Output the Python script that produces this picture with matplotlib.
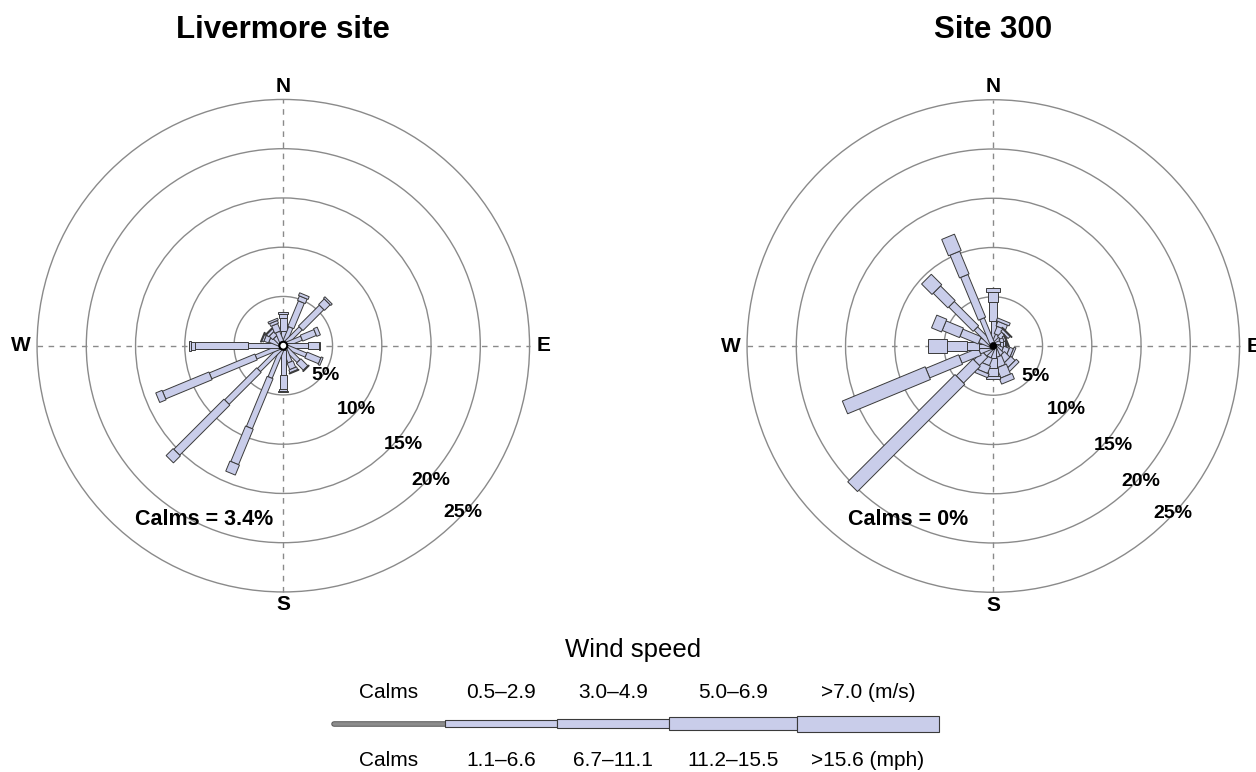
import numpy as np
import matplotlib
matplotlib.use('Agg')
import matplotlib.pyplot as plt
from matplotlib.patches import Polygon, Circle, Rectangle

plt.rcParams['font.family'] = ['Liberation Sans', 'DejaVu Sans']

# 16 compass sectors, bearing clockwise from north
bearings = np.arange(16) * 22.5

sites = ['Livermore site', 'Site 300']
calms = [3.4, 0.0]

# cumulative frequency (%) at the end of each speed class, N, NNE, ... NNW
liv_c1 = [1.5, 2.0, 2.5, 2.0, 2.5, 2.5, 2.2, 1.8, 3.0, 3.5, 3.5, 3.0, 3.6, 1.5, 1.2, 1.5]
liv_c2 = [2.8, 4.8, 5.5, 3.5, 3.6, 4.0, 3.2, 2.5, 4.4, 9.0, 8.1, 8.0, 9.0, 2.0, 1.7, 2.3]
liv_c3 = [3.2, 5.3, 6.3, 3.9, 3.7, 4.2, 3.3, 2.8, 4.6, 12.9, 15.3, 13.1, 9.4, 2.2, 2.0, 2.6]
liv_c4 = [3.4, 5.6, 6.5, 3.9, 3.7, 4.2, 3.3, 2.9, 4.7, 14.0, 16.3, 13.8, 9.6, 2.3, 2.1, 2.8]

s300_c1 = [2.5, 1.2, 1.0, 0.8, 0.7, 1.0, 1.2, 1.2, 1.2, 1.2, 1.2, 1.5, 1.5, 1.5, 2.5, 3.0]
s300_c2 = [4.5, 2.0, 1.6, 1.2, 1.0, 1.6, 2.0, 2.2, 2.2, 2.0, 2.4, 3.6, 2.7, 3.5, 6.0, 7.7]
s300_c3 = [5.5, 2.5, 1.9, 1.4, 1.2, 2.0, 2.6, 3.3, 3.0, 2.8, 4.8, 7.2, 4.7, 5.4, 8.1, 10.2]
s300_c4 = [5.9, 2.8, 2.0, 1.5, 1.3, 2.2, 3.0, 3.9, 3.3, 3.2, 20.2, 16.3, 6.6, 6.5, 9.6, 12.0]

rings = [5, 10, 15, 20, 25]
ring_labels = ['5%', '10%', '15%', '20%', '25%']

speed_ms = ['Calms', '0.5–2.9', '3.0–4.9', '5.0–6.9', '>7.0 (m/s)']
speed_mph = ['Calms', '1.1–6.6', '6.7–11.1', '11.2–15.5', '>15.6 (mph)']

FILL = '#c9cdea'
EDGE = '#3a3a3a'
GRID = '#8a8a8a'
PX = 9.85  # pixels per percent

W, H = 1256, 772
fig = plt.figure(figsize=(W / 100, H / 100), dpi=100)

# pixel overlay for titles and the key
ax_px = fig.add_axes([0, 0, 1, 1])
ax_px.set_xlim(0, W)
ax_px.set_ylim(H, 0)
ax_px.axis('off')


def paddle(ax, bearing, r0, r1, w):
    t = np.radians(bearing)
    u = np.array([np.sin(t), np.cos(t)])
    p = np.array([np.cos(t), -np.sin(t)])
    pts = [r0 * u + w / 2 * p, r1 * u + w / 2 * p,
           r1 * u - w / 2 * p, r0 * u - w / 2 * p]
    ax.add_patch(Polygon(pts, closed=True, fc=FILL, ec=EDGE, lw=0.7, zorder=3))


def draw_rose(cx, cy, classes, widths, hub, calm, calm_xy):
    half = 28.5
    size = 2 * half * PX
    ax = fig.add_axes([(cx - size / 2) / W, (H - cy - size / 2) / H, size / W, size / H])
    ax.set_xlim(-half, half)
    ax.set_ylim(-half, half)
    ax.set_aspect('equal')
    ax.axis('off')

    for r in rings:
        ax.add_patch(Circle((0, 0), r, fill=False, ec=GRID, lw=1.0, zorder=1))
    ax.plot([-25, 25], [0, 0], color=GRID, lw=1.0, ls=(0, (4, 4)), zorder=1)
    ax.plot([0, 0], [-25, 25], color=GRID, lw=1.0, ls=(0, (4, 4)), zorder=1)

    for i, b in enumerate(bearings):
        r0 = hub
        for k in range(4):
            r1 = classes[k][i]
            if r1 > r0:
                paddle(ax, b, r0, r1, widths[k])
                r0 = r1

    if hub > 0:
        ax.add_patch(Circle((0, 0), hub, fc='white', ec='black', lw=1.5, zorder=4))
    else:
        ax.add_patch(Circle((0, 0), 0.35, fc='black', ec='black', lw=0.5, zorder=4))

    # ring labels sit on a line to the south-east
    offs = [(42, 30), (73, 64), (120, 99), (148, 135), (180, 167)]
    for lab, (dx, dy) in zip(ring_labels, offs):
        ax.text(dx / PX, -dy / PX, lab, ha='center', va='center',
                fontsize=14, fontweight='bold', zorder=5)

    for lab, (x, y) in zip(['N', 'S', 'W', 'E'],
                           [(0, 26.3), (0, -26.3), (-26.6, 0), (26.4, 0)]):
        ax.text(x, y, lab, ha='center', va='center', fontsize=15,
                fontweight='bold', clip_on=False)

    ax.text(calm_xy[0], calm_xy[1], 'Calms = %s%%' % ('{:g}'.format(calm)),
            ha='center', va='center', fontsize=15.5, fontweight='bold')
    return ax


draw_rose(283.3, 345.7, [liv_c1, liv_c2, liv_c3, liv_c4],
          [0.45, 0.65, 0.85, 1.05], 0.4, calms[0], (-8.0, -17.6))
draw_rose(993.3, 346.0, [s300_c1, s300_c2, s300_c3, s300_c4],
          [0.50, 0.80, 1.05, 1.40], 0.0, calms[1], (-8.6, -17.6))

ax_px.text(283, 30, sites[0], ha='center', va='center', fontsize=22.5, fontweight='bold')
ax_px.text(993, 30, sites[1], ha='center', va='center', fontsize=22.5, fontweight='bold')

# key
leg_x = [332, 445, 557, 669, 797, 939]
leg_h = [4.7, 6.7, 9.7, 13.0, 16.0]
yc = 723.5
ax_px.text(633, 650, 'Wind speed', ha='center', va='center', fontsize=18.5)
ax_px.plot([leg_x[0] + 2, leg_x[1]], [yc, yc], color='#555555', lw=4.0,
           solid_capstyle='round', zorder=2)
ax_px.plot([leg_x[0] + 2, leg_x[1]], [yc, yc], color='#8c8c8c', lw=2.6,
           solid_capstyle='round', zorder=3)
for k in range(1, 5):
    ax_px.add_patch(Rectangle((leg_x[k], yc - leg_h[k] / 2), leg_x[k + 1] - leg_x[k],
                              leg_h[k], fc=FILL, ec=EDGE, lw=0.8, zorder=4))
for k in range(5):
    xm = (leg_x[k] + leg_x[k + 1]) / 2
    ax_px.text(xm, 692, speed_ms[k], ha='center', va='center', fontsize=15)
    ax_px.text(xm, 760, speed_mph[k], ha='center', va='center', fontsize=15)

fig.savefig('out.png', dpi=100)
